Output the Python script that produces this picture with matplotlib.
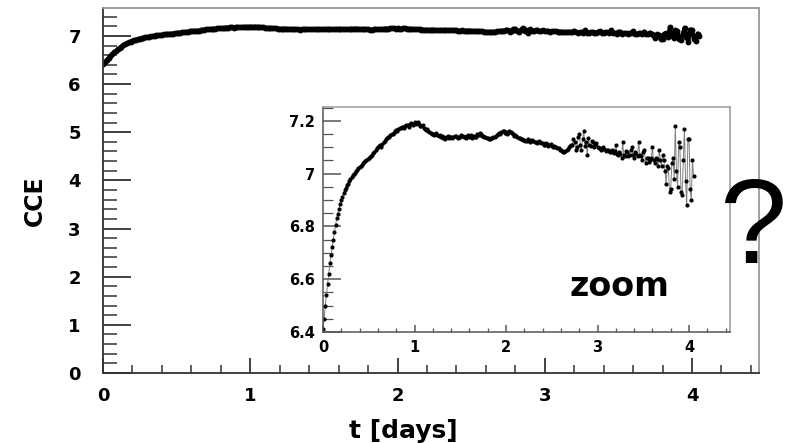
import numpy as np
import matplotlib
matplotlib.use("Agg")
import matplotlib.pyplot as plt
from matplotlib.ticker import MultipleLocator, FuncFormatter

plt.rcParams['font.family'] = ['DejaVu Sans']
plt.rcParams['font.weight'] = 'bold'

# time grid (days), 0.0125 day sampling
t_days = np.arange(325) * 0.0125

# CCE values (rows of 0.2 day)
cce = [
    6.41, 6.45, 6.50, 6.54, 6.58, 6.62, 6.66, 6.69, 6.72, 6.75, 6.78, 6.805, 6.83, 6.848, 6.865, 6.883,
    6.90, 6.912, 6.925, 6.936, 6.945, 6.955, 6.962, 6.97, 6.978, 6.986, 6.993, 6.998, 7.003, 7.01, 7.015, 7.02,
    7.026, 7.03, 7.034, 7.04, 7.043, 7.046, 7.05, 7.054, 7.057, 7.063, 7.068, 7.072, 7.077, 7.083, 7.088, 7.095,
    7.10, 7.104, 7.108, 7.102, 7.112, 7.12, 7.125, 7.13, 7.134, 7.138, 7.14, 7.146, 7.15, 7.148, 7.155, 7.16,
    7.165, 7.16, 7.168, 7.174, 7.172, 7.176, 7.178, 7.172, 7.18, 7.185, 7.183, 7.178, 7.186, 7.19, 7.188, 7.182,
    7.195, 7.186, 7.19, 7.194, 7.186, 7.18, 7.18, 7.184, 7.172, 7.168, 7.165, 7.17, 7.16, 7.156, 7.155, 7.15,
    7.15, 7.146, 7.148, 7.152, 7.146, 7.142, 7.145, 7.14, 7.142, 7.136, 7.138, 7.132, 7.14, 7.144, 7.136, 7.14,
    7.14, 7.134, 7.138, 7.142, 7.142, 7.138, 7.136, 7.14, 7.14, 7.146, 7.144, 7.14, 7.138, 7.135, 7.142, 7.146,
    7.14, 7.145, 7.136, 7.14, 7.144, 7.14, 7.14, 7.148, 7.146, 7.152, 7.15, 7.144, 7.144, 7.138, 7.14, 7.136,
    7.136, 7.13, 7.132, 7.136, 7.134, 7.14, 7.138, 7.142, 7.145, 7.15, 7.152, 7.148, 7.156, 7.16, 7.16, 7.152,
    7.156, 7.15, 7.152, 7.16, 7.158, 7.152, 7.15, 7.144, 7.146, 7.142, 7.14, 7.136, 7.136, 7.132, 7.13, 7.126,
    7.128, 7.124, 7.125, 7.13, 7.128, 7.12, 7.122, 7.126, 7.124, 7.118, 7.12, 7.116, 7.118, 7.124, 7.12, 7.114,
    7.114, 7.11, 7.11, 7.116, 7.112, 7.106, 7.108, 7.112, 7.106, 7.10, 7.104, 7.10, 7.10, 7.096, 7.095, 7.09,
    7.088, 7.084, 7.083, 7.08, 7.086, 7.09, 7.094, 7.10, 7.104, 7.108, 7.11, 7.13, 7.12, 7.09, 7.10, 7.14,
    7.15, 7.11, 7.09, 7.13, 7.16, 7.105, 7.12, 7.07, 7.135, 7.11, 7.105, 7.125, 7.12, 7.10, 7.108, 7.115,
    7.10, 7.096, 7.098, 7.09, 7.094, 7.10, 7.092, 7.086, 7.088, 7.09, 7.085, 7.08, 7.082, 7.09, 7.078, 7.084,
    7.11, 7.075, 7.07, 7.08, 7.075, 7.06, 7.12, 7.07, 7.065, 7.085, 7.08, 7.065, 7.07, 7.09, 7.10, 7.07,
    7.06, 7.08, 7.075, 7.065, 7.12, 7.07, 7.065, 7.05, 7.08, 7.09, 7.04, 7.06, 7.06, 7.045, 7.052, 7.06,
    7.10, 7.05, 7.04, 7.06, 7.055, 7.03, 7.09, 7.05, 7.03, 7.07, 7.05, 7.01, 6.96, 7.03, 7.02, 6.93,
    6.94, 7.04, 7.06, 6.98, 7.18, 7.01, 6.95, 7.12, 7.10, 6.93, 6.92, 7.05, 7.17, 6.97, 6.88, 7.13,
    7.13, 6.94, 6.90, 7.05, 6.99,
]

main_yticks = [0, 1, 2, 3, 4, 5, 6, 7]
main_xticks = [0, 1, 2, 3, 4]
inset_yticks = [6.4, 6.6, 6.8, 7.0, 7.2]
inset_xticks = [0, 1, 2, 3, 4]

W, H = 792, 443
fig = plt.figure(figsize=(W / 100, H / 100), dpi=100)

def frac(l, r, top, bot):
    return [l / W, 1 - bot / H, (r - l) / W, (bot - top) / H]

ax = fig.add_axes(frac(103, 759, 8, 373))
ax.plot(t_days, cce, color='black', lw=3.0, marker='o', ms=3.2,
        solid_capstyle='round')
ax.set_xlim(0, 4.455)
ax.set_ylim(0, 7.58)
ax.set_xticks(main_xticks)
ax.set_yticks(main_yticks)
ax.xaxis.set_minor_locator(MultipleLocator(0.2))
ax.yaxis.set_minor_locator(MultipleLocator(0.2))
ax.tick_params(axis='y', which='major', direction='in', length=20, width=1.3,
               color='#333333', labelsize=13, pad=16)
ax.tick_params(axis='y', which='minor', direction='in', length=10, width=1.1,
               color='#333333')
ax.tick_params(axis='x', which='major', direction='in', length=11, width=1.3,
               color='#333333', labelsize=13, pad=10)
ax.tick_params(axis='x', which='minor', direction='in', length=5.5, width=1.1,
               color='#333333')
for s in ['left', 'bottom']:
    ax.spines[s].set_color('#333333')
    ax.spines[s].set_linewidth(1.3)
for s in ['top', 'right']:
    ax.spines[s].set_color('#999999')
    ax.spines[s].set_linewidth(1.3)

# inset
ai = fig.add_axes(frac(323, 730, 107, 332))
ai.plot(t_days, cce, color='#808080', lw=0.7, marker='o', ms=2.0,
        mfc='black', mec='black')
ai.set_xlim(0, 4.448)
ai.set_ylim(6.4, 7.252)
ai.set_xticks(inset_xticks)
ai.set_yticks(inset_yticks)
ai.xaxis.set_minor_locator(MultipleLocator(0.2))
ai.yaxis.set_minor_locator(MultipleLocator(0.05))
ai.yaxis.set_major_formatter(FuncFormatter(lambda v, p: '%g' % round(v, 2)))
ai.tick_params(axis='y', which='major', direction='in', length=13, width=1.1,
               color='#555555', labelsize=10.5, pad=6)
ai.tick_params(axis='y', which='minor', direction='in', length=7, width=0.9,
               color='#555555')
ai.tick_params(axis='x', which='major', direction='in', length=5, width=1.1,
               color='#555555', labelsize=10.5, pad=6)
ai.tick_params(axis='x', which='minor', direction='in', length=3, width=0.9,
               color='#555555')
for s in ['left', 'bottom']:
    ai.spines[s].set_color('#555555')
    ai.spines[s].set_linewidth(1.1)
for s in ['top', 'right']:
    ai.spines[s].set_color('#999999')
    ai.spines[s].set_linewidth(1.1)

fig.text(619 / W, 1 - 296 / H, 'zoom', ha='center', va='baseline',
         fontsize=24, fontweight='bold')
fig.text(35 / W, 1 - 201 / H, 'CCE', ha='center', va='center', rotation=90,
         fontsize=17, fontweight='bold')
fig.text(403.5 / W, 1 - 431 / H, 't [days]', ha='center', va='center',
         fontsize=18, fontweight='bold')
fig.text(753 / W, 1 - 263 / H, '?', ha='center', va='baseline',
         fontsize=87, fontweight='normal', family='Liberation Sans',
         zorder=10)

fig.savefig('out.png', dpi=100)
